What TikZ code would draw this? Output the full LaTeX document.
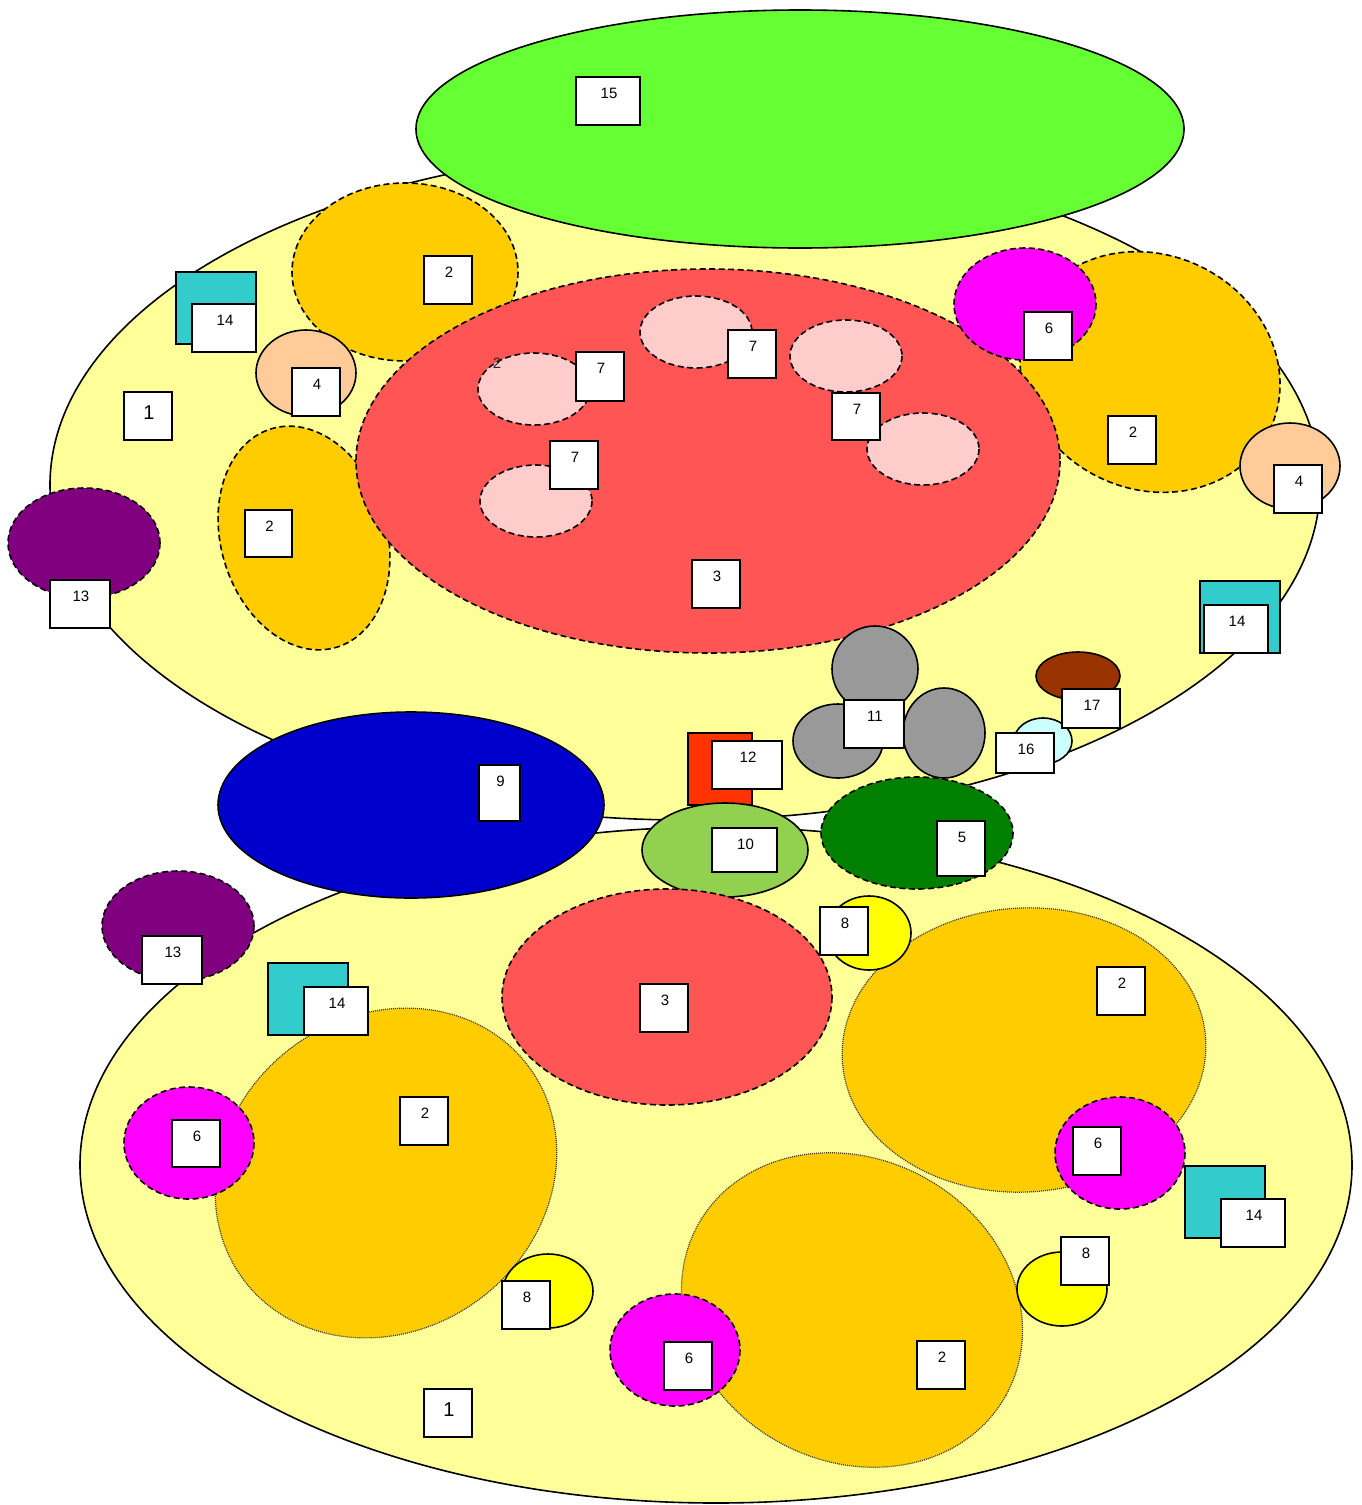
\documentclass[tikz,border=0pt]{standalone}
\usepackage{fontspec}
\setmainfont{Liberation Sans}
\usetikzlibrary{fit}
\definecolor{cyel}{HTML}{FFFF99}
\definecolor{cgreen}{HTML}{66FF33}
\definecolor{corange}{HTML}{FFCC00}
\definecolor{cred}{HTML}{FF5555}
\definecolor{cpink}{HTML}{FFCCCC}
\definecolor{cmag}{HTML}{FF00FF}
\definecolor{cpeach}{HTML}{FFCC99}
\definecolor{ccyan}{HTML}{33CCCC}
\definecolor{cpurple}{HTML}{800080}
\definecolor{cgray}{HTML}{999999}
\definecolor{cbrown}{HTML}{993300}
\definecolor{clcyan}{HTML}{CCFFFF}
\definecolor{cred12}{HTML}{FF3300}
\definecolor{cblue}{HTML}{0000CC}
\definecolor{clime}{HTML}{92D050}
\definecolor{cdgreen}{HTML}{007F00}
\definecolor{cyellow}{HTML}{FFFF00}
\newcommand{\lab}[6]{%
  \node[lb, fit={(#2,#3) (#4,#5)}] (#1) {};
  \node[lt] (#1t) at ([xshift=1pt,yshift=-17pt]#1.north) {#6};}
\newcommand{\labbig}[6]{%
  \node[lb, fit={(#2,#3) (#4,#5)}] (#1) {};
  \node[ltbig] (#1t) at ([xshift=1pt,yshift=-21pt]#1.north) {#6};}
\begin{document}
\begin{tikzpicture}[x=1pt,y=-1pt,
  blob/.style={draw=black, line width=1.6pt},
  dsh/.style={draw=black, line width=1.6pt, dash pattern=on 6pt off 3.5pt},
  dotl/.style={draw=black!80, line width=1.2pt, dash pattern=on 1pt off 1pt},
  lb/.style={draw=black, fill=white, line width=1.6pt, inner sep=0pt},
  lt/.style={font=\fontsize{15}{18}\selectfont, inner sep=0pt},
  ltbig/.style={font=\fontsize{20}{24}\selectfont, inner sep=0pt},
]
\useasboundingbox (0,0) rectangle (1361,1505);
% big regions
\draw[blob, fill=cyel] (685,485) ellipse [x radius=635, y radius=335];
\draw[blob, fill=cyel] (716,1165) ellipse [x radius=636, y radius=338];
\draw[blob, fill=cgreen] (800,129) ellipse [x radius=384, y radius=119];
% top group
\draw[dsh, fill=corange] (405,272) ellipse [x radius=113, y radius=89];
\draw[dsh, fill=corange, rotate around={16.5:(304,538)}] (304,538) ellipse [x radius=83, y radius=114];
\draw[dsh, fill=corange, rotate around={-26.4:(1150,372)}] (1150,372) ellipse [x radius=133, y radius=117];
\draw[dsh, fill=cred] (708,461) ellipse [x radius=352, y radius=192];
\foreach \px/\py in {696/332, 846/356, 923/449, 534/389, 536/501}
  \draw[dsh, fill=cpink] (\px,\py) ellipse [x radius=56, y radius=36];
\draw[dsh, fill=cmag] (1025,304) ellipse [x radius=71, y radius=56];
\draw[blob, fill=cpeach] (1290,466) ellipse [x radius=50, y radius=43];
\draw[blob, fill=cpeach] (306,373) ellipse [x radius=50, y radius=43];
\draw[blob, fill=ccyan] (176,272) rectangle (256,344);
\draw[blob, fill=ccyan] (1200,581) rectangle (1280,653);
\draw[dsh, fill=cpurple] (84,543) ellipse [x radius=76, y radius=55];
\draw[blob, fill=cgray] (875,669) ellipse [x radius=43, y radius=43];
\draw[blob, fill=cgray] (838,741) ellipse [x radius=45, y radius=37];
\draw[blob, fill=cgray] (944,733) ellipse [x radius=41, y radius=45];
\draw[blob, fill=cbrown] (1078,676) ellipse [x radius=42, y radius=24];
\draw[blob, fill=clcyan] (1043,741) ellipse [x radius=29, y radius=23];
\node[font=\fontsize{15}{18}\selectfont, text=black!85, inner sep=0pt] (stray2) at (497,363) {2};
% middle
\draw[blob, fill=cred12] (688,733) rectangle (752,805);
\draw[blob, fill=cblue] (411,805) ellipse [x radius=193, y radius=93];
\draw[blob, fill=clime] (725,850) ellipse [x radius=83, y radius=47];
\draw[dsh, fill=cdgreen] (917,833) ellipse [x radius=96, y radius=56];
% bottom group
\draw[dotl, fill=corange, rotate around={36.9:(386,1173)}] (386,1173) ellipse [x radius=178, y radius=157];
\draw[dotl, fill=corange, rotate around={3.5:(1024,1050)}] (1024,1050) ellipse [x radius=182, y radius=142];
\draw[dotl, fill=corange, rotate around={-29:(852,1310)}] (852,1310) ellipse [x radius=176, y radius=151];
\draw[dsh, fill=cred] (667,997) ellipse [x radius=165, y radius=108];
\draw[dsh, fill=cmag] (189,1143) ellipse [x radius=65, y radius=56];
\draw[dsh, fill=cmag] (1120,1153) ellipse [x radius=65, y radius=56];
\draw[dsh, fill=cmag] (675,1350) ellipse [x radius=65, y radius=56];
\draw[blob, fill=cyellow] (869,933) ellipse [x radius=42, y radius=37];
\draw[blob, fill=cyellow] (1062,1289) ellipse [x radius=45, y radius=37];
\draw[blob, fill=cyellow] (548,1291) ellipse [x radius=45, y radius=37];
\draw[blob, fill=ccyan] (268,963) rectangle (348,1035);
\draw[blob, fill=ccyan] (1185,1166) rectangle (1265,1238);
\draw[dsh, fill=cpurple] (178,926) ellipse [x radius=76, y radius=55];
% labels
\labbig{lonea}{124}{392}{172}{440}{1}
\lab{ltwoa}{424}{256}{472}{304}{2}
\lab{ltwob}{245}{510}{292}{557}{2}
\lab{ltwoc}{1108}{416}{1156}{464}{2}
\lab{lthreea}{692}{560}{740}{608}{3}
\lab{lfoura}{292}{368}{340}{416}{4}
\lab{lfourb}{1274}{465}{1322}{513}{4}
\lab{lsixa}{1024}{312}{1072}{360}{6}
\lab{lsevena}{728}{330}{776}{378}{7}
\lab{lsevenb}{832}{393}{880}{440}{7}
\lab{lsevenc}{576}{352}{624}{401}{7}
\lab{lsevend}{550}{441}{598}{489}{7}
\lab{lthirteena}{50}{580}{110}{628}{13}
\lab{lfourteena}{192}{304}{256}{352}{14}
\lab{lfourteenb}{1204}{605}{1268}{653}{14}
\lab{lfifteen}{576}{77}{640}{125}{15}
\lab{leleven}{844}{700}{904}{748}{11}
\lab{lseventeen}{1062}{689}{1120}{728}{17}
\lab{lsixteen}{996}{733}{1054}{773}{16}
\lab{ltwelve}{712}{741}{782}{789}{12}
\lab{lnine}{479}{765}{520}{821}{9}
\lab{lten}{712}{828}{777}{872}{10}
\lab{lfive}{937}{821}{985}{876}{5}
\lab{lthirteenb}{142}{936}{202}{984}{13}
\lab{lfourteenc}{304}{987}{368}{1035}{14}
\lab{lthreeb}{640}{984}{688}{1032}{3}
\lab{leighta}{820}{907}{868}{955}{8}
\lab{ltwod}{1097}{967}{1145}{1015}{2}
\lab{lsixb}{1073}{1127}{1121}{1175}{6}
\lab{lfourteend}{1221}{1199}{1285}{1247}{14}
\lab{leightb}{1061}{1237}{1109}{1285}{8}
\lab{ltwoe}{400}{1097}{448}{1145}{2}
\lab{lsixc}{172}{1120}{220}{1167}{6}
\lab{leightc}{502}{1281}{550}{1329}{8}
\lab{lsixd}{664}{1342}{712}{1390}{6}
\lab{ltwof}{917}{1341}{965}{1389}{2}
\labbig{loneb}{424}{1389}{472}{1437}{1}
\end{tikzpicture}
\end{document}
